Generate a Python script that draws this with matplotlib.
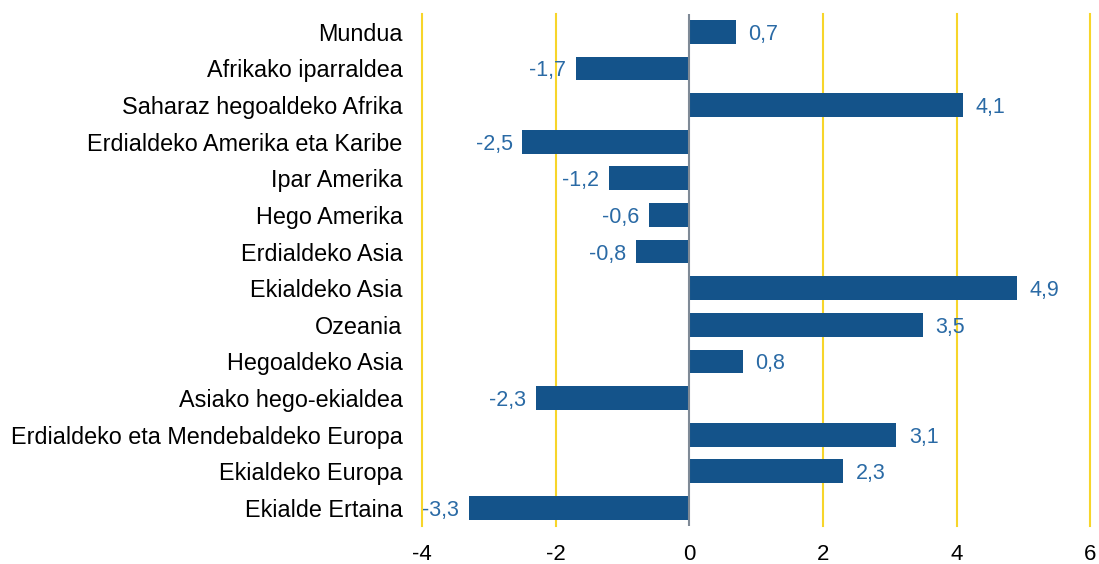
import matplotlib.pyplot as plt

regions = ["Mundua", "Afrikako iparraldea", "Saharaz hegoaldeko Afrika",
           "Erdialdeko Amerika eta Karibe", "Ipar Amerika", "Hego Amerika",
           "Erdialdeko Asia", "Ekialdeko Asia", "Ozeania", "Hegoaldeko Asia",
           "Asiako hego-ekialdea", "Erdialdeko eta Mendebaldeko Europa",
           "Ekialdeko Europa", "Ekialde Ertaina"]
values = [0.7, -1.7, 4.1, -2.5, -1.2, -0.6, -0.8, 4.9, 3.5, 0.8, -2.3, 3.1, 2.3, -3.3]
xticks = [-4, -2, 0, 2, 4, 6]

plt.rcParams['font.family'] = ['Liberation Sans', 'DejaVu Sans']

fig = plt.figure(figsize=(10.99, 5.64), dpi=100)
ax = fig.add_axes([0.384, 0.067, 0.608, 0.909])

pos = list(range(len(regions)))
ax.barh(pos, values, height=0.65, color='#14538a', zorder=3)

for p, v in zip(pos, values):
    txt = f"{v:.1f}".replace('.', ',')
    if v >= 0:
        ax.annotate(txt, (v, p), xytext=(9, 0), textcoords='offset points',
                    ha='left', va='center_baseline', fontsize=15.5, color='#2a6aa5', zorder=4)
    else:
        ax.annotate(txt, (v, p), xytext=(-7, 0), textcoords='offset points',
                    ha='right', va='center_baseline', fontsize=15.5, color='#2a6aa5', zorder=4)

ax.set_xlim(-4, 6)
ax.set_ylim(len(regions) - 0.5, -0.5)
ax.set_xticks(xticks)
ax.set_xticklabels([str(t) for t in xticks], fontsize=16)
ax.set_yticks(pos)
ax.set_yticklabels(regions, fontsize=16.8, va='center_baseline')
ax.tick_params(length=0, pad=14)
ax.tick_params(axis='x', pad=13)

for t in xticks:
    if t != 0:
        ax.axvline(t, color='#f7d52a', linewidth=1.5, zorder=1, clip_on=False)
ax.axvline(0, color='#7f8a96', linewidth=1.5, zorder=4)

for s in ax.spines.values():
    s.set_visible(False)

fig.savefig('out.png', dpi=100)
